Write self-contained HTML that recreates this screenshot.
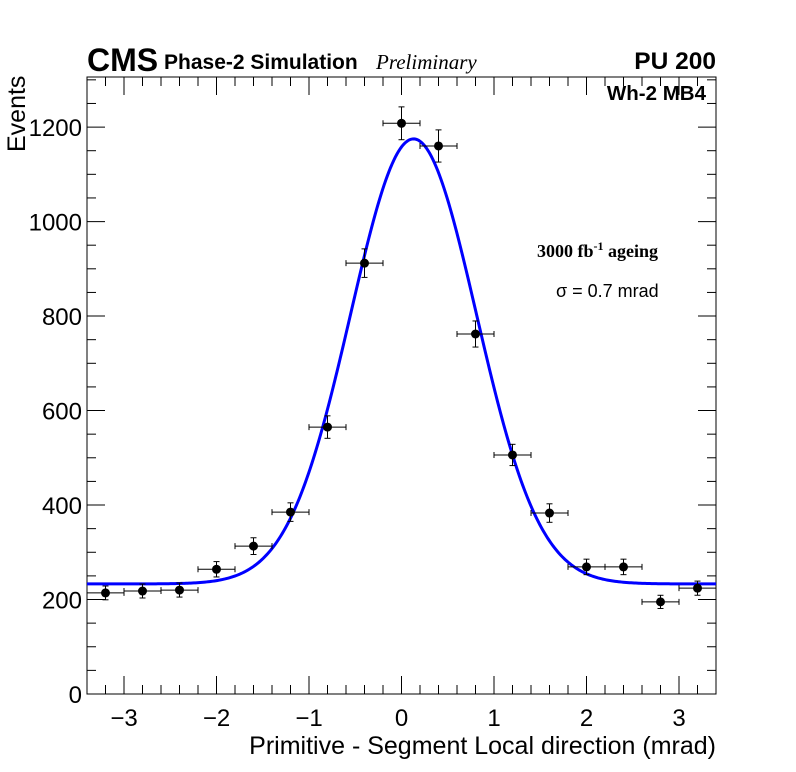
<!DOCTYPE html>
<html><head><meta charset="utf-8"><style>
body{margin:0;background:#fff;}
svg{display:block;font-family:"Liberation Sans",sans-serif;}
</style></head><body>
<svg id="c" width="796" height="772">
<rect x="0" y="0" width="796" height="772" fill="#fff"/>
<text x="87" y="71" font-size="32" font-weight="bold">CMS</text>
<text x="164" y="69" font-size="21" font-weight="bold">Phase-2 Simulation</text>
<text x="376" y="69" font-size="21" font-style="italic" font-family="Liberation Serif,serif">Preliminary</text>
<text x="716" y="69" font-size="24.5" font-weight="bold" text-anchor="end">PU 200</text>
<text x="706" y="100" font-size="20.5" font-weight="bold" text-anchor="end">Wh-2 MB4</text>
<text x="537" y="257" font-size="18" font-weight="bold" font-family="Liberation Serif,serif">3000 fb<tspan dy="-7" font-size="12">-1</tspan><tspan dy="7"> ageing</tspan></text>
<text x="556" y="297" font-size="18">σ = 0.7 mrad</text>
<text x="716" y="754" font-size="25" text-anchor="end">Primitive - Segment Local direction (mrad)</text>
<text transform="translate(25,152) rotate(-90)" font-size="25">Events</text>
<g id="axes"></g><g id="marks"></g>
</svg>
<script>
const xCenters=[-3.2,-2.8,-2.4,-2.0,-1.6,-1.2,-0.8,-0.4,0,0.4,0.8,1.2,1.6,2.0,2.4,2.8,3.2];
const yValues=[214,218,220,264,313,385,565,912,1208,1160,762,506,383,269,269,195,224];
const xTicks=[-3,-2,-1,0,1,2,3];
const yTicks=[0,200,400,600,800,1000,1200];
const fitConst=[233];
const fitAmp=[942];
const fitMean=[0.13];
const fitSigma=[0.68];
const binHalf=0.2;
const X0=87,X1=716,Y0=694,Y1=77,xmin=-3.4,xmax=3.4,ymin=0,ymax=1306;
const sx=v=>X0+(v-xmin)/(xmax-xmin)*(X1-X0);
const sy=v=>Y0-(v-ymin)/(ymax-ymin)*(Y0-Y1);
const NS="http://www.w3.org/2000/svg";
const ax=document.getElementById('axes'),mk=document.getElementById('marks');
function el(t,a,p){const e=document.createElementNS(NS,t);for(const k in a)e.setAttribute(k,a[k]);p.appendChild(e);return e;}
const frame=el('rect',{x:X0,y:Y1,width:X1-X0,height:Y0-Y1,fill:'none',stroke:'#000','stroke-width':1},ax);


for(let v=-3.4;v<=3.4001;v+=0.2){const big=Math.abs(v-Math.round(v))<1e-6;const L=big?18:9;
 el('line',{x1:sx(v),x2:sx(v),y1:Y0,y2:Y0-L,stroke:'#000'},ax);
 el('line',{x1:sx(v),x2:sx(v),y1:Y1,y2:Y1+L,stroke:'#000'},ax);}
for(let v=0;v<=1300;v+=50){const big=v%200===0;const L=big?18:9;
 el('line',{x1:X0,x2:X0+L,y1:sy(v),y2:sy(v),stroke:'#000'},ax);
 el('line',{x1:X1,x2:X1-L,y1:sy(v),y2:sy(v),stroke:'#000'},ax);}
xTicks.forEach(v=>{const t=el('text',{x:sx(v),y:726,'font-size':24,'text-anchor':'middle'},ax);t.textContent=(v<0?'\u2212'+(-v):v);
 
 });
yTicks.forEach(v=>{const t=el('text',{x:82,y:sy(v)+9,'font-size':24,'text-anchor':'end'},ax);t.textContent=v;
 
 });
let d='';for(let i=0;i<=400;i++){const x=xmin+(xmax-xmin)*i/400;const y=fitConst[0]+fitAmp[0]*Math.exp(-0.5*Math.pow((x-fitMean[0])/fitSigma[0],2));d+=(i?'L':'M')+sx(x).toFixed(2)+','+sy(y).toFixed(2);}
const fit=el('path',{d:d,fill:'none',stroke:'#0000ff','stroke-width':3},mk);


xCenters.forEach((x,i)=>{const y=yValues[i],e=Math.sqrt(y);const g=el('g',{},mk);
 
 
 el('line',{x1:sx(x-binHalf),x2:sx(x+binHalf),y1:sy(y),y2:sy(y),stroke:'#000'},g);
 el('line',{x1:sx(x),x2:sx(x),y1:sy(y-e),y2:sy(y+e),stroke:'#000'},g);
 [x-binHalf,x+binHalf].forEach(xx=>el('line',{x1:sx(xx),x2:sx(xx),y1:sy(y)-3,y2:sy(y)+3,stroke:'#000'},g));
 [y-e,y+e].forEach(yy=>el('line',{x1:sx(x)-3,x2:sx(x)+3,y1:sy(yy),y2:sy(yy),stroke:'#000'},g));
 el('circle',{cx:sx(x),cy:sy(y),r:4.5,fill:'#000'},g);});
</script>
</body></html>
